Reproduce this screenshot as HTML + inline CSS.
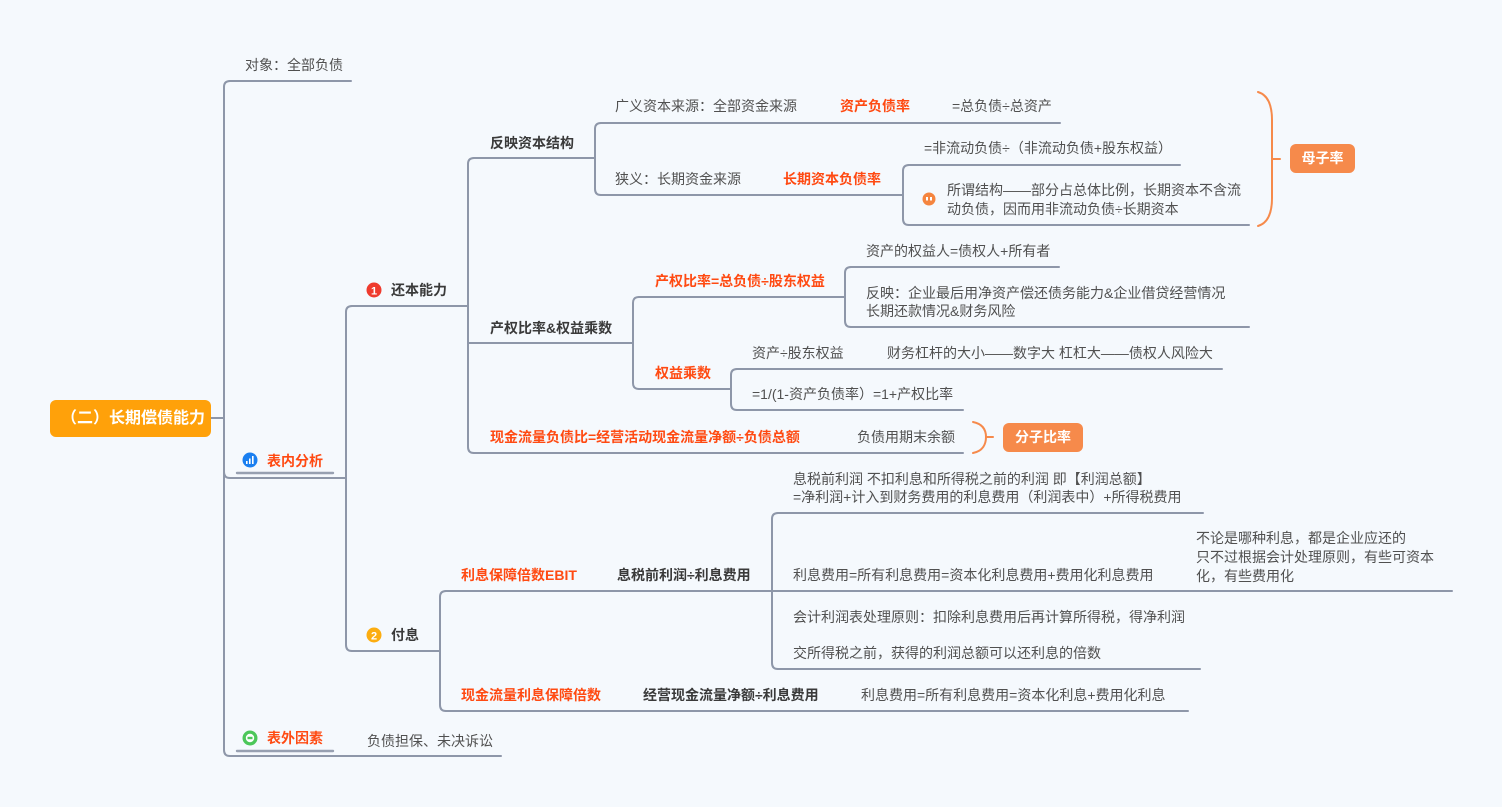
<!DOCTYPE html>
<html>
<head>
<meta charset="utf-8">
<style>
html,body{margin:0;padding:0;}
body{width:1502px;height:807px;background:#f5f9fd;position:relative;overflow:hidden;font-family:"Liberation Sans","Noto Sans CJK SC",sans-serif;}
.t{position:absolute;font-size:14px;line-height:20px;white-space:nowrap;color:#505050;}
.b{font-weight:bold;color:#3a3a3a;}
.r{font-weight:bold;color:#ff4a12;}
svg{position:absolute;left:0;top:0;}
.root{position:absolute;left:50px;top:400px;width:156px;padding-left:5px;height:37px;background:#ffa10a;border-radius:6px;color:#fff;font-weight:bold;font-size:16px;line-height:37px;text-align:center;white-space:nowrap;}
.btn{position:absolute;background:#f68a4b;border-radius:6px;color:#fff;font-weight:bold;font-size:14px;text-align:center;white-space:nowrap;}
</style>
</head>
<body>
<svg width="1502" height="807" viewBox="0 0 1502 807">
<g fill="none" stroke="#8e97a9" stroke-width="2" stroke-linecap="round">
<path d="M211,418 L224,418"/>
<path d="M230,81 Q224,81 224,87 L224,750 Q224,756 230,756"/>
<path d="M230,81 L351,81"/>
<path d="M224,472 Q224,478 230,478 L346,478"/>
<path d="M230,756 L501,756"/>
<path d="M237,473 L333,473" stroke-width="2.4" stroke="#97a0b1"/>
<path d="M237,751 L333,751" stroke-width="2.4" stroke="#97a0b1"/>
<path d="M352,306 Q346,306 346,312 L346,645 Q346,651 352,651"/>
<path d="M352,306 L468,306"/>
<path d="M352,651 L440,651"/>
<path d="M474,158 Q468,158 468,164 L468,447 Q468,453 474,453"/>
<path d="M474,158 L595,158"/>
<path d="M468,343 L633,343"/>
<path d="M474,453 L963,453"/>
<path d="M601,123 Q595,123 595,129 L595,189 Q595,195 601,195"/>
<path d="M601,123 L1060,123"/>
<path d="M601,195 L903,195"/>
<path d="M909,165 Q903,165 903,171 L903,219 Q903,225 909,225"/>
<path d="M909,165 L1180,165"/>
<path d="M909,225 L1249,225"/>
<path d="M639,297 Q633,297 633,303 L633,383 Q633,389 639,389"/>
<path d="M639,297 L845,297"/>
<path d="M639,389 L731,389"/>
<path d="M851,267 Q845,267 845,273 L845,321 Q845,327 851,327"/>
<path d="M851,267 L1059,267"/>
<path d="M851,327 L1249,327"/>
<path d="M737,369 Q731,369 731,375 L731,404 Q731,410 737,410"/>
<path d="M737,369 L1222,369"/>
<path d="M737,410 L963,410"/>
<path d="M446,591 Q440,591 440,597 L440,705 Q440,711 446,711"/>
<path d="M446,591 L772,591"/>
<path d="M446,711 L1188,711"/>
<path d="M778,513 Q772,513 772,519 L772,663 Q772,669 778,669"/>
<path d="M778,513 L1203,513"/>
<path d="M772,591 L1452,591"/>
<path d="M778,669 L1200,669"/>
</g>
<g fill="none" stroke="#f68a4b" stroke-width="2" stroke-linecap="round">
<path d="M1258,92 C1268,95 1272,105 1272,120 L1272,198 C1272,213 1268,223 1258,226"/>
<path d="M1272,159 L1280,159"/>
<path d="M973,422 C983,424 986,430 986,437 C986,444 983,451 973,453"/>
<path d="M986,437 L993,437"/>
</g>
<circle cx="374" cy="290" r="7.5" fill="#ef3b2e"/>
<text x="374" y="294.5" font-size="11" font-weight="bold" fill="#fff" text-anchor="middle" font-family="Liberation Sans, sans-serif">1</text>
<circle cx="374" cy="635" r="7.5" fill="#fcad10"/>
<text x="374" y="639.5" font-size="11" font-weight="bold" fill="#fff" text-anchor="middle" font-family="Liberation Sans, sans-serif">2</text>
<circle cx="250" cy="460" r="7.5" fill="#1a7ff0"/>
<rect x="246" y="461" width="1.6" height="3" fill="#fff"/>
<rect x="249" y="458.5" width="1.6" height="5.5" fill="#fff"/>
<rect x="252" y="456" width="1.6" height="8" fill="#fff"/>
<circle cx="250" cy="738" r="7.5" fill="#4cc75a"/>
<circle cx="250" cy="738" r="4.2" fill="#fff"/>
<rect x="247.5" y="736.8" width="5" height="2.4" fill="#4cc75a"/>
<circle cx="929" cy="199" r="6.5" fill="#f5853f"/>
<rect x="926" y="197" width="2" height="3.5" fill="#fff"/>
<rect x="930" y="197" width="2" height="3.5" fill="#fff"/>
</svg>

<div class="root">（二）长期偿债能力</div>
<div class="btn" style="left:1290px;top:144px;width:65px;height:29px;line-height:29px;">母子率</div>
<div class="btn" style="left:1003px;top:423px;width:80px;height:29px;line-height:29px;">分子比率</div>

<div class="t" style="left:245px;top:55px;">对象：全部负债</div>
<div class="t r" style="left:267px;top:451px;">表内分析</div>
<div class="t r" style="left:267px;top:728px;">表外因素</div>
<div class="t" style="left:367px;top:731px;">负债担保、未决诉讼</div>

<div class="t b" style="left:391px;top:280px;">还本能力</div>
<div class="t b" style="left:391px;top:625px;">付息</div>

<div class="t b" style="left:490px;top:133px;">反映资本结构</div>
<div class="t b" style="left:490px;top:318px;">产权比率&amp;权益乘数</div>
<div class="t r" style="left:490px;top:427px;">现金流量负债比=经营活动现金流量净额÷负债总额</div>
<div class="t" style="left:857px;top:427px;">负债用期末余额</div>

<div class="t" style="left:615px;top:96px;">广义资本来源：全部资金来源</div>
<div class="t r" style="left:840px;top:96px;">资产负债率</div>
<div class="t" style="left:952px;top:96px;">=总负债÷总资产</div>
<div class="t" style="left:615px;top:169px;">狭义：长期资金来源</div>
<div class="t r" style="left:783px;top:169px;">长期资本负债率</div>
<div class="t" style="left:924px;top:138px;">=非流动负债÷（非流动负债+股东权益）</div>
<div class="t" style="left:947px;top:180px;">所谓结构——部分占总体比例，长期资本不含流</div>
<div class="t" style="left:947px;top:199px;">动负债，因而用非流动负债÷长期资本</div>

<div class="t r" style="left:655px;top:271px;">产权比率=总负债÷股东权益</div>
<div class="t r" style="left:655px;top:363px;">权益乘数</div>
<div class="t" style="left:866px;top:241px;">资产的权益人=债权人+所有者</div>
<div class="t" style="left:866px;top:283px;">反映：企业最后用净资产偿还债务能力&amp;企业借贷经营情况</div>
<div class="t" style="left:866px;top:301px;">长期还款情况&amp;财务风险</div>
<div class="t" style="left:752px;top:343px;">资产÷股东权益</div>
<div class="t" style="left:887px;top:343px;">财务杠杆的大小——数字大 杠杠大——债权人风险大</div>
<div class="t" style="left:752px;top:384px;">=1/(1-资产负债率）=1+产权比率</div>

<div class="t r" style="left:461px;top:565px;">利息保障倍数EBIT</div>
<div class="t b" style="left:617px;top:565px;">息税前利润÷利息费用</div>
<div class="t" style="left:793px;top:469px;">息税前利润 不扣利息和所得税之前的利润 即【利润总额】</div>
<div class="t" style="left:793px;top:487px;">=净利润+计入到财务费用的利息费用（利润表中）+所得税费用</div>
<div class="t" style="left:793px;top:565px;">利息费用=所有利息费用=资本化利息费用+费用化利息费用</div>
<div class="t" style="left:1196px;top:528px;">不论是哪种利息，都是企业应还的</div>
<div class="t" style="left:1196px;top:547px;">只不过根据会计处理原则，有些可资本</div>
<div class="t" style="left:1196px;top:566px;">化，有些费用化</div>
<div class="t" style="left:793px;top:607px;">会计利润表处理原则：扣除利息费用后再计算所得税，得净利润</div>
<div class="t" style="left:793px;top:643px;">交所得税之前，获得的利润总额可以还利息的倍数</div>
<div class="t r" style="left:461px;top:685px;">现金流量利息保障倍数</div>
<div class="t b" style="left:643px;top:685px;">经营现金流量净额÷利息费用</div>
<div class="t" style="left:861px;top:685px;">利息费用=所有利息费用=资本化利息+费用化利息</div>
</body>
</html>
